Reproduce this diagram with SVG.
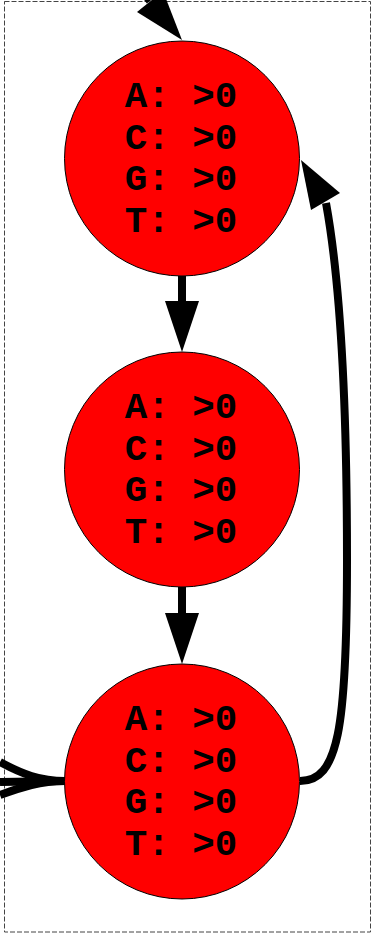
<svg xmlns="http://www.w3.org/2000/svg" width="382" height="939" viewBox="0 0 382 939">
<style>
.node circle{fill:#ff0000;stroke:#000;stroke-width:1}
.node text{font-family:"Liberation Mono","Courier New",monospace;font-weight:bold;font-size:37.5px;fill:#000;text-anchor:middle}
.edge{fill:none;stroke:#000;stroke-width:8}
.head{fill:#000;stroke:none}
</style>
<rect x="4.5" y="1.5" width="366" height="930.5" fill="none" stroke="#444" stroke-width="1" stroke-dasharray="5,2"/>
<g id="connectors">
<path class="edge" d="M150,1 L140,-12"/>
<polygon class="head" points="182,40 137,12 163,-9"/>
<path class="edge" d="M182,276 L182,301"/>
<polygon class="head" points="182,352 165,301 199,301"/>
<path class="edge" d="M182,587 L182,613"/>
<polygon class="head" points="182,664 165,613 199,613"/>
<path class="edge" d="M300,781 C338,781 347,730 347,560 C347,400 340,280 326,203"/>
<polygon class="head" points="301,160 340,193 311,210"/>
<path class="edge" d="M65,781 C40,781 22,774 0,762"/>
<path class="edge" d="M65,781 L0,782"/>
<path class="edge" d="M65,781 C40,781 22,787 0,795"/>
</g>
<g id="node1" class="node">
<circle cx="182" cy="158.5" r="117.5"/>
<text x="181" y="107">A: &gt;0</text>
<text x="181" y="148.5">C: &gt;0</text>
<text x="181" y="190">G: &gt;0</text>
<text x="181" y="231.5">T: &gt;0</text>
</g>
<g id="node2" class="node">
<circle cx="182" cy="469.5" r="117.5"/>
<text x="181" y="418">A: &gt;0</text>
<text x="181" y="459.5">C: &gt;0</text>
<text x="181" y="501">G: &gt;0</text>
<text x="181" y="542.5">T: &gt;0</text>
</g>
<g id="node3" class="node">
<circle cx="182" cy="781.5" r="117.5"/>
<text x="181" y="730">A: &gt;0</text>
<text x="181" y="771.5">C: &gt;0</text>
<text x="181" y="813">G: &gt;0</text>
<text x="181" y="854.5">T: &gt;0</text>
</g>
</svg>
